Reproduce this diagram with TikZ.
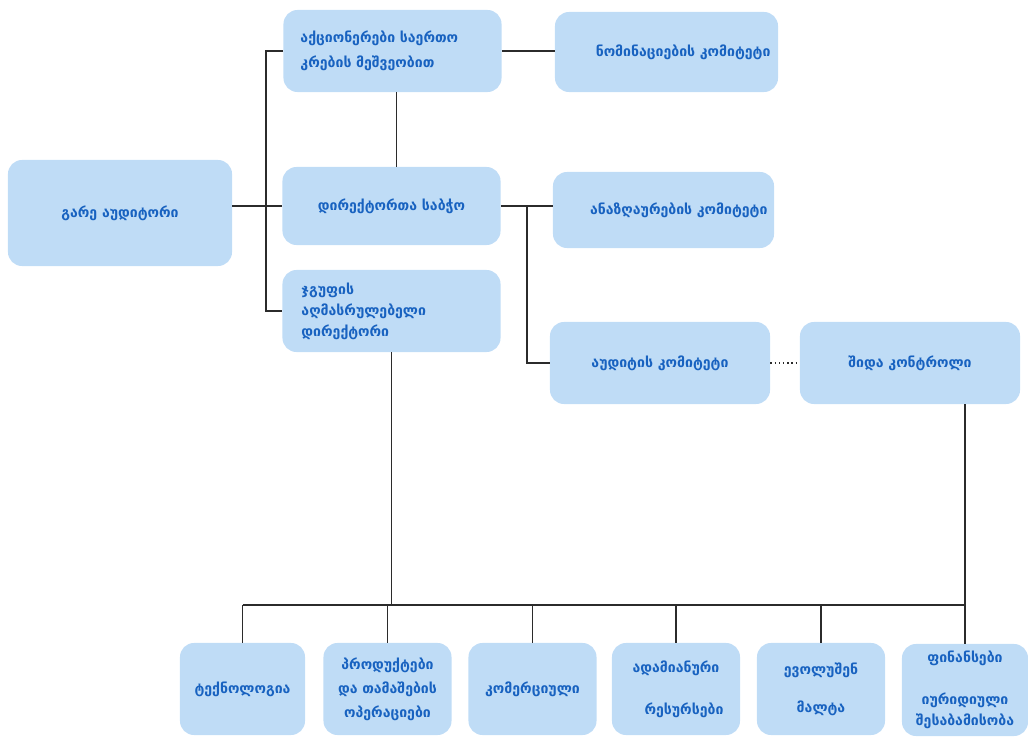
\documentclass[tikz,border=0pt]{standalone}
\usepackage{fontspec}
\setmainfont{DejaVu Sans}
\usetikzlibrary{positioning}
\definecolor{boxblue}{HTML}{BFDCF6}
\definecolor{textblue}{HTML}{1862C0}
\definecolor{linegray}{HTML}{2B2B2B}

\begin{document}
\begin{tikzpicture}[x=0.025cm,y=-0.025cm,
    box/.style={fill=boxblue,rounded corners=0.35cm,text=textblue,
      font=\fontsize{10}{15}\selectfont\bfseries,inner sep=0pt},
    wide/.style={box,minimum width=5.45cm,minimum height=2.05cm},
    small/.style={box,minimum width=3.2cm,minimum height=2.3cm,text width=3.1cm,align=center},
    link/.style={draw=linegray,line width=1pt}]
\useasboundingbox (0,0) rectangle (1028,737);

% governance
\node[wide,text width=4.6cm,align=left] (share) at (392.5,51)
  {აქციონერები საერთო\\[3pt]კრების მეშვეობით};
\node[wide,minimum width=5.575cm,minimum height=2cm,text width=5.2cm,align=right] (nomin) at (666.5,52)
  {ნომინაციების კომიტეტი};
\node[wide,minimum width=5.6cm,minimum height=2.65cm] (extaud) at (120,213) {გარე აუდიტორი};
\node[wide,minimum height=1.95cm] (board) at (391.5,206) {დირექტორთა საბჭო};
\node[wide,minimum width=5.525cm,minimum height=1.9cm,text width=5.2cm,align=right] (remun) at (663.5,210)
  {ანაზღაურების კომიტეტი};
\node[wide,text width=4.5cm,align=left] (gexec) at (391.5,311)
  {ჯგუფის\\აღმასრულებელი\\დირექტორი};
\node[wide,minimum width=5.5cm] (audit) at (660,363) {აუდიტის კომიტეტი};
\node[wide,minimum width=5.5cm] (intctl) at (910,363) {შიდა კონტროლი};

% departments
\node[small,minimum width=3.125cm] (tech) at (242.5,689) {ტექნოლოგია};
\node[small] (prod) at (387.5,689) {პროდუქტები\\[2pt]და თამაშების\\[2pt]ოპერაციები};
\node[small] (comm) at (532.5,689) {კომერციული};
\node[small] (hr) at (676,689) {ადამიანური\\[15pt]\hspace*{0.4cm}რესურსები};
\node[small] (evo) at (821,689) {ევოლუშენ\\[12pt]მალტა};
\node[small,minimum width=3.15cm] (fin) at (965,690) {ფინანსები\\[15pt]იურიდიული\\შესაბამისობა};

\coordinate (spine) at (266,0);
\coordinate (spinetwo) at (527,0);
\coordinate (bus) at (0,605);

% connectors
\draw[link] (share.west) -- (share.west -| spine) -- (gexec.west -| spine) -- (gexec.west);
\draw[link] (extaud.east |- board.west) -- (board.west);
\draw[link] ([xshift=0.1cm]share.south) -- ([xshift=0.1cm]share.south |- board.north);
\draw[link] (share.east) -- (share.east -| nomin.west);
\draw[link] (board.east) -- (board.east -| remun.west);
\draw[link] (board.east -| spinetwo) |- (audit.west);
\draw[link,dotted] (audit.east) -- (intctl.west);
\draw[link] (gexec.south) -- (gexec.south |- bus);
\draw[link] (fin.north |- intctl.south) -- (fin.north |- bus);
\draw[link] (tech.north |- bus) -- (fin.north |- bus);
\foreach \n in {tech,prod,comm,hr,evo,fin}
  \draw[link] (\n.north |- bus) -- (\n.north);
\end{tikzpicture}
\end{document}
